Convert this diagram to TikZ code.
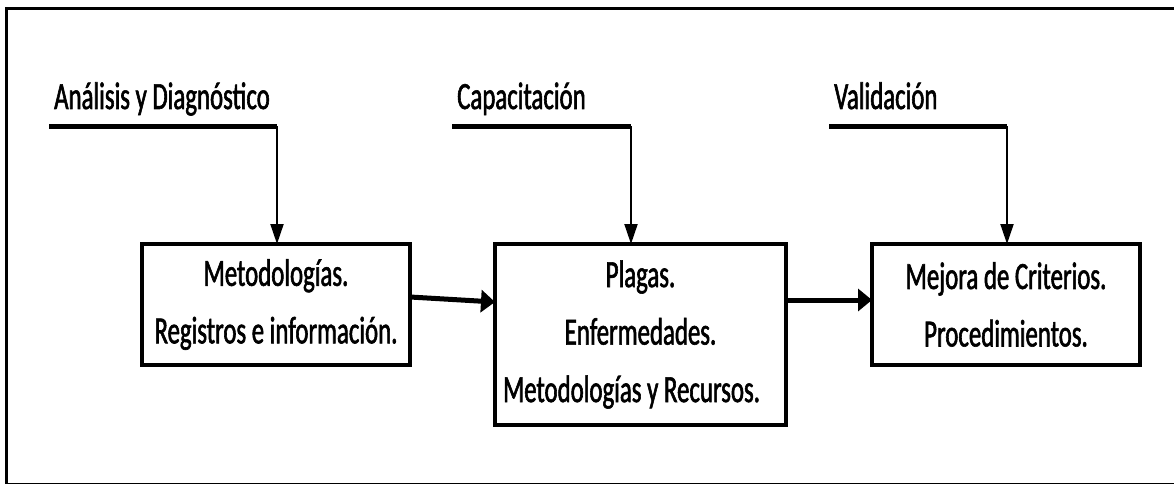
\documentclass[tikz,border=0pt]{standalone}
\usepackage{fontspec}
\setmainfont[FakeStretch=0.645, FakeBold=1.5]{Carlito}
\usetikzlibrary{arrows.meta}

\tikzset{
	caja/.style={draw, line width=4pt, inner sep=0pt, outer sep=0pt, align=center,
		minimum width=268pt, minimum height=121pt},
	etiqueta/.style={anchor=base west, inner sep=0pt},
	entrada/.style={line width=5pt},
	baja/.style={line width=2pt, -{Triangle[length=20pt,width=13pt]}},
	pasa/.style={line width=5pt, -{Triangle[length=14pt,width=22pt]}},
}

\begin{document}
\begin{tikzpicture}[x=1pt, y=-1pt, font=\fontsize{38.5}{57.5}\selectfont]
		\useasboundingbox (0,0) rectangle (1174,484);
		\draw[line width=3pt] (6.5,8.5) rectangle (1180,484.5);
		% cajas
		\node[caja] (m1) at (276,304.5) {Metodologías.\\Registros e información.};
		\node[caja, minimum width=291pt, minimum height=181pt] (m2) at (640.5,334.5)
			{Plagas.\\Enfermedades.\\Metodologías y Recursos.\hspace*{18pt}};
		\node[caja] (m3) at (1006,304.5) {Mejora de Criterios.\\Procedimientos.};
		% entradas
		\node[etiqueta] (tA) at (54,109) {Análisis y Diagnóstico};
		\node[etiqueta] (tC) at (457,109) {Capacitación};
		\node[etiqueta] (tV) at (834,109) {Validación};
		\coordinate (inA) at (49,126);
		\coordinate (esqA) at (277,126);
		\coordinate (inC) at (452,126);
		\coordinate (esqC) at (631,126);
		\coordinate (inV) at (829,126);
		\coordinate (esqV) at (1007,126);
		\draw[entrada] (inA) -- (esqA);
		\draw[entrada] (inC) -- (esqC);
		\draw[entrada] (inV) -- (esqV);
		\draw[baja] (esqA) -- (esqA |- m1.north);
		\draw[baja] (esqC) -- (esqC |- m2.north);
		\draw[baja] (esqV) -- (esqV |- m3.north);
		% flujo
		\draw[pasa] ([yshift=7.5pt]m1.east) -- ([yshift=32.5pt]m2.west);
		\draw[pasa] ([yshift=34.5pt]m2.east) -- ([yshift=4.5pt]m3.west);
	\end{tikzpicture}
\end{document}
